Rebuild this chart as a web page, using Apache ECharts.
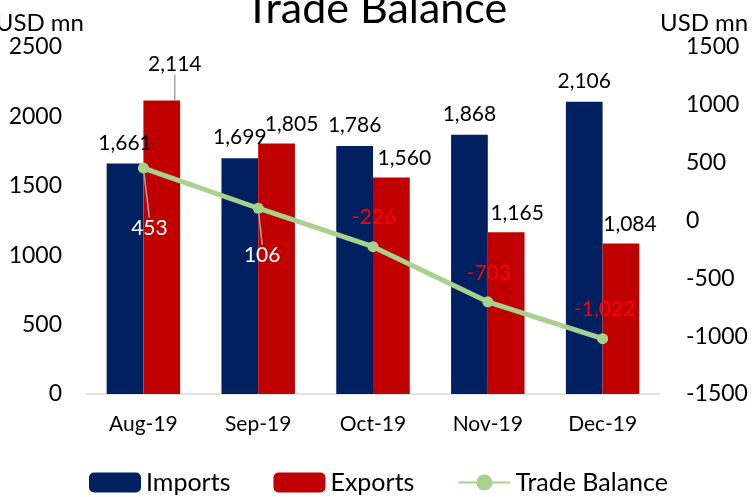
<!DOCTYPE html>
<html>
<head>
<meta charset="utf-8">
<script src="https://cdn.jsdelivr.net/npm/echarts@6/dist/echarts.min.js"></script>
<style>
  html, body { margin: 0; padding: 0; background: #fff; }
  #chart { width: 752px; height: 497px; }
</style>
</head>
<body>
<div id="chart"></div>
<script>
const categories = ['Aug-19', 'Sep-19', 'Oct-19', 'Nov-19', 'Dec-19'];
const importsData = [1661, 1699, 1786, 1868, 2106];
const exportsData = [2114, 1805, 1560, 1165, 1084];
const tradeBalance = [453, 106, -226, -703, -1022];
const leftTicks = { min: 0, max: 2500, interval: 500 };
const rightTicks = { min: -1500, max: 1500, interval: 500 };

// label nudges, as in the original (dx, dy)
const exportShift = [[13, -17], [15, 0], [13, 0], [11, 0], [9, 0]];
const balanceShift = [[6, 89], [4, 76], [1, 0], [1, 0], [2, 0]];

const fmt = v => v.toLocaleString('en-US');
const guide = { show: true, lineStyle: { color: '#A6A6A6', width: 1.5 } };

const chart = echarts.init(document.getElementById('chart'));

const option = {
  animation: false,
  textStyle: { fontFamily: 'Lato' },
  title: {
    text: 'Trade Balance',
    left: 'center',
    top: -17,
    textStyle: { fontFamily: 'Lato', fontSize: 43, fontWeight: 'normal', color: '#000' }
  },
  grid: { left: 86, right: 92, top: 47, bottom: 103, containLabel: false, outerBoundsMode: 'none' },
  legend: {
    left: 84,
    top: 465,
    itemWidth: 52,
    itemHeight: 20,
    itemGap: 43,
    textStyle: { fontFamily: 'Lato', fontSize: 25, color: '#000' },
    data: ['Imports', 'Exports', 'Trade Balance']
  },
  xAxis: {
    type: 'category',
    data: categories,
    axisTick: { show: false },
    axisLine: { lineStyle: { color: '#D9D9D9', width: 1.5 } },
    axisLabel: { margin: 20, fontFamily: 'Lato', fontSize: 21, color: '#000' }
  },
  yAxis: [
    {
      type: 'value',
      min: leftTicks.min,
      max: leftTicks.max,
      interval: leftTicks.interval,
      name: 'USD mn',
      nameLocation: 'end',
      nameGap: 12,
      nameTextStyle: { fontFamily: 'Lato', fontSize: 24, color: '#000', align: 'right', padding: [0, 2, 0, 0] },
      splitLine: { show: false },
      axisLine: { show: false },
      axisTick: { show: false },
      axisLabel: { margin: 24, fontFamily: 'Lato', fontSize: 23, color: '#000', formatter: v => String(v) }
    },
    {
      type: 'value',
      min: rightTicks.min,
      max: rightTicks.max,
      interval: rightTicks.interval,
      name: 'USD mn',
      nameLocation: 'end',
      nameGap: 12,
      nameTextStyle: { fontFamily: 'Lato', fontSize: 24, color: '#000', align: 'left' },
      splitLine: { show: false },
      axisLine: { show: false },
      axisTick: { show: false },
      axisLabel: { margin: 26, fontFamily: 'Lato', fontSize: 23, color: '#000', formatter: v => String(v) }
    }
  ],
  series: [
    {
      name: 'Imports',
      type: 'bar',
      barWidth: '32%',
      barGap: '0%',
      itemStyle: { color: '#002060' },
      label: {
        show: true,
        position: 'top',
        distance: 10,
        fontFamily: 'Lato',
        fontSize: 21,
        color: '#000',
        formatter: p => fmt(p.value)
      },
      data: importsData
    },
    {
      name: 'Exports',
      type: 'bar',
      barWidth: '32%',
      barGap: '0%',
      itemStyle: { color: '#C00000' },
      label: {
        show: true,
        position: 'top',
        distance: 9,
        fontFamily: 'Lato',
        fontSize: 21,
        color: '#000',
        formatter: p => fmt(p.value)
      },
      labelLayout: p => ({ dx: exportShift[p.dataIndex][0], dy: exportShift[p.dataIndex][1] }),
      data: exportsData.map((v, i) => (i === 0 ? { value: v, labelLine: guide } : v))
    },
    {
      name: 'Trade Balance',
      type: 'line',
      yAxisIndex: 1,
      z: 5,
      symbol: 'circle',
      symbolSize: 11,
      itemStyle: { color: '#A9D18E' },
      lineStyle: { color: '#A9D18E', width: 5 },
      label: {
        show: true,
        position: 'top',
        distance: 13,
        fontFamily: 'Lato',
        fontSize: 21,
        formatter: p => fmt(p.value)
      },
      labelLayout: p => ({ dx: balanceShift[p.dataIndex][0], dy: balanceShift[p.dataIndex][1] }),
      data: tradeBalance.map(v => {
        const item = { value: v, label: { color: v < 0 ? '#FF0000' : '#FFFFFF' } };
        if (v > 0) item.labelLine = guide;
        return item;
      })
    }
  ]
};

chart.setOption(option);
window.addEventListener('resize', () => chart.resize());
</script>
</body>
</html>
